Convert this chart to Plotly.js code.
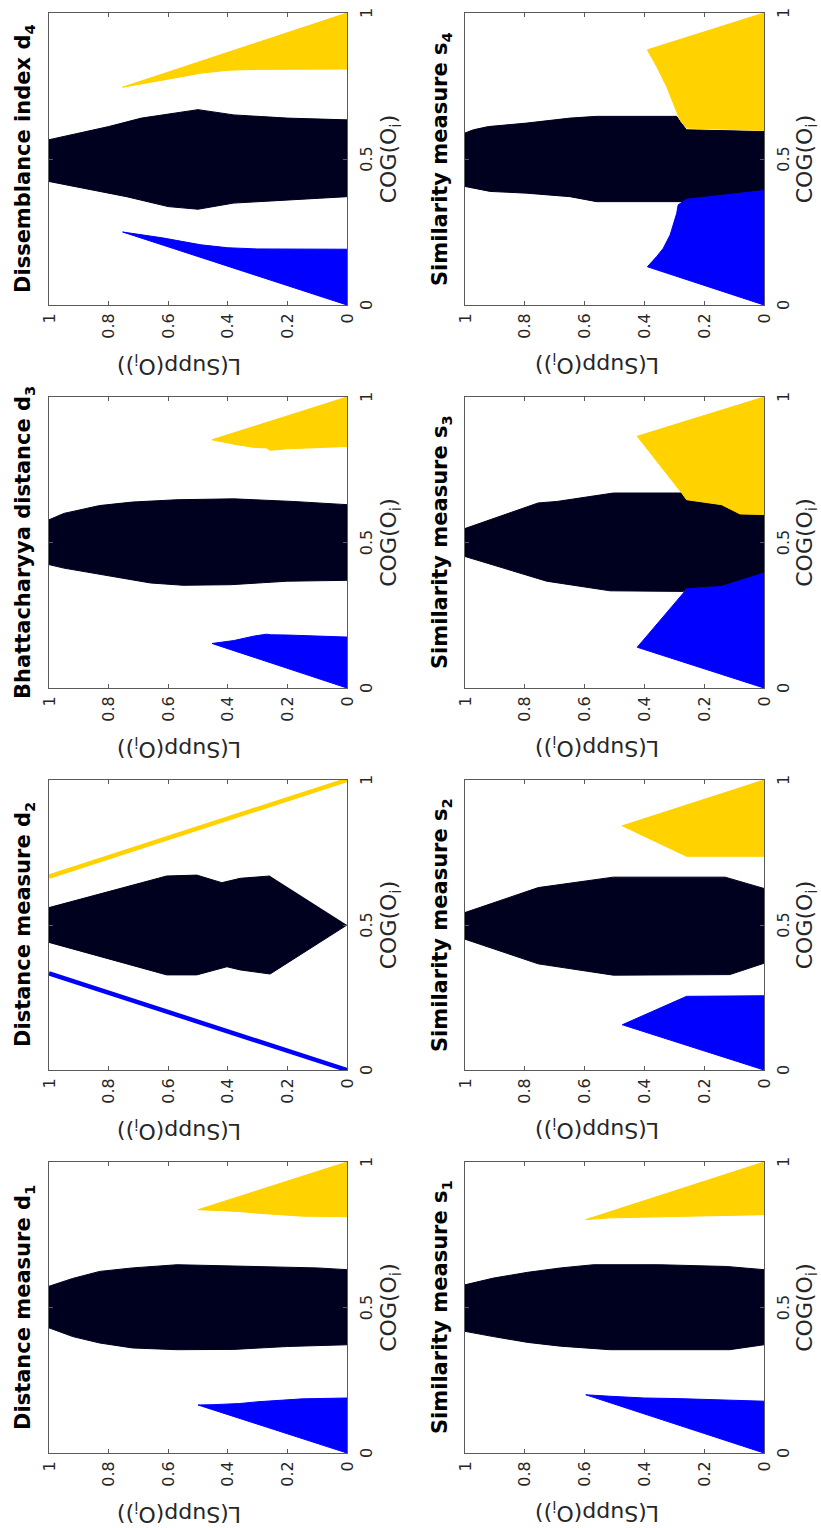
<!DOCTYPE html>
<html>
<head>
<meta charset="utf-8">
<script src="https://cdn.plot.ly/plotly-3.0.1.min.js"></script>
<style>
  html, body { margin: 0; padding: 0; overflow: hidden; background: #ffffff; width: 821px; height: 1528px; }
  #chart { position: absolute; left: 0; top: 0; width: 1528px; height: 821px; }
</style>
</head>
<body>
<div id="chart"></div>
<script>
// ---------------- DATA ----------------
// Panel titles: [main text, subscript]
const panelTitleMain = [
  'Distance measure d', 'Distance measure d', 'Bhattacharyya distance d', 'Dissemblance index d',
  'Similarity measure s', 'Similarity measure s', 'Similarity measure s', 'Similarity measure s'
];
const panelTitleSub = ['1', '2', '3', '4', '1', '2', '3', '4'];
const xLabelMain = 'COG(O', xLabelSub = 'i', xLabelEnd = ')';
const yLabelMain = 'L(Supp(O', yLabelSub = 'i', yLabelEnd = '))';
const cogTickVals = [0, 0.5, 1];
const cogTickText = ['0', '0.5', '1'];
const lTickVals = [0, 0.2, 0.4, 0.6, 0.8, 1];
const lTickText = ['0', '0.2', '0.4', '0.6', '0.8', '1'];

// Region boundaries (COG, L) for the three classes in each panel
// d1
const d1BlueCOG = [0, 0.165, 0.166, 0.17, 0.176, 0.182, 0.186, 0.189];
const d1BlueL   = [0, 0.5,   0.45,  0.36, 0.30,  0.22,  0.15,  0];
const d1DarkCOG = [0.372, 0.366, 0.356, 0.355, 0.361, 0.378, 0.40, 0.43, 0.573, 0.60, 0.624, 0.636, 0.647, 0.643, 0.636, 0.63];
const d1DarkL   = [0,     0.2,   0.38,  0.57,  0.72,  0.83,  0.92, 1,    1,     0.92, 0.83,  0.72,  0.57,  0.38,  0.1,   0];
const d1YellowCOG = [1, 0.836, 0.834, 0.83, 0.824, 0.818, 0.814, 0.812];
const d1YellowL   = [0, 0.5,   0.45,  0.36, 0.30,  0.22,  0.15,  0];
// d2 (blue and yellow are thin lines)
const d2BlueCOG = [0, 0.333];
const d2BlueL   = [0, 1];
const d2DarkCOG = [0.5, 0.331, 0.345, 0.356, 0.328, 0.328, 0.44, 0.56, 0.669, 0.672, 0.646, 0.661, 0.669];
const d2DarkL   = [0,   0.258, 0.358, 0.403, 0.504, 0.605, 1,    1,    0.605, 0.504, 0.42,  0.358, 0.258];
const d2YellowCOG = [0.667, 1];
const d2YellowL   = [1, 0];
// d3
const d3BlueCOG = [0, 0.153, 0.163, 0.178, 0.185, 0.183, 0.182, 0.175];
const d3BlueL   = [0, 0.453, 0.38,  0.314, 0.27,  0.258, 0.2,   0];
const d3DarkCOG = [0.37, 0.367, 0.355, 0.353, 0.361, 0.372, 0.39, 0.412, 0.424, 0.578, 0.60, 0.627, 0.639, 0.647, 0.65, 0.641, 0.63];
const d3DarkL   = [0,    0.2,   0.39,  0.55,  0.66,  0.72,  0.83, 0.95,  1,     1,     0.95, 0.83,  0.72,  0.57,  0.38, 0.18,  0];
const d3YellowCOG = [1, 0.853, 0.838, 0.827, 0.825, 0.817, 0.822, 0.83];
const d3YellowL   = [0, 0.453, 0.38,  0.314, 0.27,  0.258, 0.2,   0];
// d4
const d4BlueCOG = [0, 0.25,  0.23, 0.206, 0.196, 0.192, 0.191];
const d4BlueL   = [0, 0.753, 0.62, 0.49,  0.40,  0.30,  0];
const d4DarkCOG = [0.371, 0.36, 0.349, 0.328, 0.337, 0.371, 0.389, 0.423, 0.566, 0.583, 0.611, 0.64, 0.669, 0.651, 0.64, 0.634];
const d4DarkL   = [0,     0.2,  0.38,  0.5,   0.6,   0.74,  0.83,  1,     1,     0.92,  0.8,   0.69, 0.5,   0.38,  0.2,  0];
const d4YellowCOG = [1, 0.746, 0.77, 0.794, 0.804, 0.807, 0.808];
const d4YellowL   = [0, 0.753, 0.62, 0.49,  0.40,  0.30,  0];
// s1
const s1BlueCOG = [0, 0.2,   0.195, 0.189, 0.187, 0.183, 0.178];
const s1BlueL   = [0, 0.596, 0.515, 0.4,   0.29,  0.18,  0];
const s1DarkCOG = [0.372, 0.355, 0.355, 0.355, 0.367, 0.38, 0.40,  0.418, 0.578, 0.601, 0.621, 0.636, 0.647, 0.647, 0.641, 0.63];
const s1DarkL   = [0,     0.115, 0.35,  0.515, 0.68,  0.79, 0.905, 1,     1,     0.905, 0.79,  0.68,  0.57,  0.35,  0.125, 0];
const s1YellowCOG = [1, 0.802, 0.808, 0.813, 0.819];
const s1YellowL   = [0, 0.596, 0.515, 0.29,  0];
// s2
const s2BlueCOG = [0, 0.156, 0.254, 0.256];
const s2BlueL   = [0, 0.474, 0.259, 0];
const s2DarkCOG = [0.368, 0.329, 0.327, 0.366, 0.451, 0.543, 0.629, 0.665, 0.665, 0.626];
const s2DarkL   = [0,     0.114, 0.504, 0.755, 1,     1,     0.755, 0.504, 0.13,  0];
const s2YellowCOG = [1, 0.842, 0.737, 0.737];
const s2YellowL   = [0, 0.474, 0.259, 0];
// s3
const s3BlueCOG = [0, 0.14,  0.326, 0.341, 0.349, 0.395];
const s3BlueL   = [0, 0.424, 0.27,  0.259, 0.142, 0];
const s3DarkCOG = [0.395, 0.349, 0.341, 0.332, 0.334, 0.367, 0.452, 0.548, 0.636, 0.641, 0.67,  0.67,  0.647, 0.63,  0.598, 0.596];
const s3DarkL   = [0,     0.142, 0.259, 0.27,  0.515, 0.727, 1,     1,     0.755, 0.693, 0.504, 0.275, 0.259, 0.142, 0.08,  0];
const s3YellowCOG = [1, 0.865, 0.67,  0.647, 0.63,  0.598, 0.596];
const s3YellowL   = [0, 0.424, 0.275, 0.259, 0.142, 0.08,  0];
// s4
const s4BlueCOG = [0, 0.131, 0.166, 0.194, 0.24,  0.314, 0.343, 0.362, 0.392];
const s4BlueL   = [0, 0.39,  0.359, 0.337, 0.314, 0.292, 0.287, 0.259, 0];
const s4DarkCOG = [0.392, 0.362, 0.354, 0.354, 0.371, 0.383, 0.389, 0.40,  0.406, 0.589, 0.60,  0.611, 0.623, 0.64,  0.646, 0.646, 0.629, 0.60,  0.594];
const s4DarkL   = [0,     0.259, 0.27,  0.56,  0.649, 0.794, 0.916, 0.972, 1,     1,     0.972, 0.922, 0.794, 0.649, 0.56,  0.292, 0.281, 0.259, 0];
const s4YellowCOG = [1, 0.874, 0.857, 0.817, 0.749, 0.657, 0.634, 0.606, 0.598];
const s4YellowL   = [0, 0.39,  0.381, 0.359, 0.326, 0.292, 0.281, 0.259, 0];

// ---------------- STYLE / LAYOUT ----------------
const FIG_W = 1528, FIG_H = 821;           // un-rotated figure size
const colPx = [[75, 366], [458, 748], [840, 1131], [1223, 1515]];
const rowPx = [[49, 347], [465, 764]];
const COLORS = { blue: '#0000ff', dark: '#00001f', yellow: '#ffd200' };
const FONT = 'DejaVu Sans, Verdana, sans-serif';
const AXIS_COLOR = '#5a5a5a';
const TEXT_COLOR = '#262626';

// subscript rendered as a styled span (shifted below the baseline)
function withSub(main, sub, end, shiftPx) {
  return main + '<span style="font-size:70%;baseline-shift:-' + shiftPx + 'px">' + sub + '</span>' + (end || '');
}

const panels = [
  [d1BlueCOG, d1BlueL, d1DarkCOG, d1DarkL, d1YellowCOG, d1YellowL, 'fill'],
  [d2BlueCOG, d2BlueL, d2DarkCOG, d2DarkL, d2YellowCOG, d2YellowL, 'line'],
  [d3BlueCOG, d3BlueL, d3DarkCOG, d3DarkL, d3YellowCOG, d3YellowL, 'fill'],
  [d4BlueCOG, d4BlueL, d4DarkCOG, d4DarkL, d4YellowCOG, d4YellowL, 'fill'],
  [s1BlueCOG, s1BlueL, s1DarkCOG, s1DarkL, s1YellowCOG, s1YellowL, 'fill'],
  [s2BlueCOG, s2BlueL, s2DarkCOG, s2DarkL, s2YellowCOG, s2YellowL, 'fill'],
  [s3BlueCOG, s3BlueL, s3DarkCOG, s3DarkL, s3YellowCOG, s3YellowL, 'fill'],
  [s4BlueCOG, s4BlueL, s4DarkCOG, s4DarkL, s4YellowCOG, s4YellowL, 'fill']
];

const traces = [];
const layout = {
  width: FIG_W, height: FIG_H,
  margin: { l: 0, r: 0, t: 0, b: 0 },
  paper_bgcolor: '#ffffff', plot_bgcolor: '#ffffff',
  showlegend: false,
  font: { family: FONT, color: TEXT_COLOR },
  annotations: []
};

function region(xs, ys, color, xa, ya) {
  return { type: 'scatter', mode: 'lines', x: xs, y: ys, xaxis: xa, yaxis: ya,
           fill: 'toself', fillcolor: color, line: { color: color, width: 1 },
           hoverinfo: 'skip' };
}
function thinLine(xs, ys, color, xa, ya) {
  return { type: 'scatter', mode: 'lines', x: xs, y: ys, xaxis: xa, yaxis: ya,
           line: { color: color, width: 4.5 }, cliponaxis: false, hoverinfo: 'skip' };
}

panels.forEach((p, i) => {
  const n = i + 1;
  const xa = 'x' + (n === 1 ? '' : n), ya = 'y' + (n === 1 ? '' : n);
  const row = Math.floor(i / 4), col = i % 4;
  const [bx, bl, dx, dl, yx, yl, kind] = p;
  traces.push(region(dx, dl, COLORS.dark, xa, ya));
  if (kind === 'line') {
    traces.push(thinLine(bx, bl, COLORS.blue, xa, ya));
    traces.push(thinLine(yx, yl, COLORS.yellow, xa, ya));
  } else {
    traces.push(region(bx, bl, COLORS.blue, xa, ya));
    traces.push(region(yx, yl, COLORS.yellow, xa, ya));
  }
  const xd = [colPx[col][0] / FIG_W, colPx[col][1] / FIG_W];
  const yd = [1 - rowPx[row][1] / FIG_H, 1 - rowPx[row][0] / FIG_H];
  const common = {
    range: [0, 1], showgrid: false, zeroline: false,
    showline: true, linecolor: AXIS_COLOR, linewidth: 1, mirror: 'allticks',
    ticks: 'inside', ticklen: 4, tickwidth: 1, tickcolor: AXIS_COLOR,
    tickfont: { family: FONT, size: 16, color: TEXT_COLOR },
    fixedrange: true
  };
  layout['xaxis' + (n === 1 ? '' : n)] = Object.assign({}, common, {
    domain: xd, anchor: ya, tickvals: cogTickVals, ticktext: cogTickText,
    ticklabelstandoff: 5,
    title: { text: withSub(xLabelMain, xLabelSub, xLabelEnd, 5),
             font: { family: FONT, size: 22, color: TEXT_COLOR }, standoff: 4 }
  });
  layout['yaxis' + (n === 1 ? '' : n)] = Object.assign({}, common, {
    domain: yd, anchor: xa, tickvals: lTickVals, ticktext: lTickText,
    ticklabelstandoff: 4
  });
  // panel title
  layout.annotations.push({
    text: withSub(panelTitleMain[i], panelTitleSub[i], '', 5), xref: 'paper', yref: 'paper',
    x: (xd[0] + xd[1]) / 2, y: 1 - (row === 0 ? 25 : 442) / FIG_H,
    xanchor: 'center', yanchor: 'middle', showarrow: false,
    font: { family: FONT, size: 21, color: '#000000', weight: 'bold' }
  });
  // y-axis label
  layout.annotations.push({
    text: withSub(yLabelMain, yLabelSub, yLabelEnd, 5), xref: 'paper', yref: 'paper', textangle: -90,
    x: (colPx[col][0] - 59) / FIG_W, y: 1 - (row === 0 ? 179 : 597) / FIG_H,
    xanchor: 'center', yanchor: 'middle', showarrow: false,
    font: { family: FONT, size: 22, color: TEXT_COLOR }
  });
});

Plotly.newPlot('chart', traces, layout, { staticPlot: true, displayModeBar: false }).then(() => {
  const el = document.getElementById('chart');
  el.style.transformOrigin = '0 0';
  el.style.transform = 'translate(0px, ' + FIG_W + 'px) rotate(-90deg)';
});
</script>
</body>
</html>
